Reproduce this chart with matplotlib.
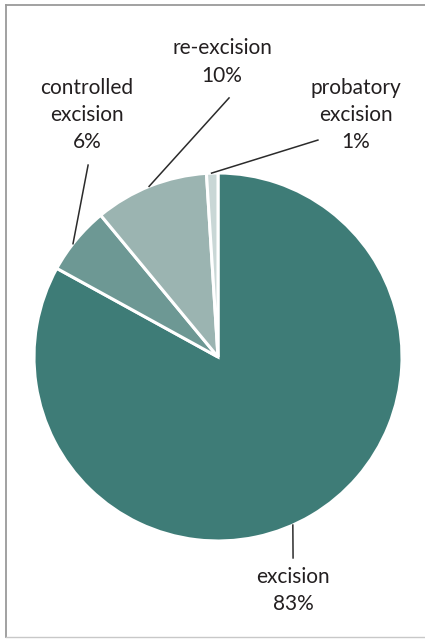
import numpy as np
import matplotlib
matplotlib.use("Agg")
import matplotlib.pyplot as plt
from matplotlib.lines import Line2D

# --- data ---
labels = ["excision", "controlled\nexcision", "re-excision", "probatory\nexcision"]
shares = [83, 6, 10, 1]
colors = ["#3e7c77", "#6d9894", "#9bb4b1", "#c9d7d6"]

# label placement (pie units, centre 0,0 radius 1)
text_pos = [(0.408, -1.27), (-0.712, 1.315), (0.022, 1.603), (0.75, 1.315)]
line_end = [(0.408, -1.092), (-0.706, 1.043), (0.060, 1.408), (0.543, 1.179)]
hit_angle = [-66, 142, 112, 92]

plt.rcParams["font.family"] = ["Lato", "DejaVu Sans"]

fig = plt.figure(figsize=(4.25, 6.39), dpi=100)
ax = fig.add_axes([0, 0, 1, 1])

ax.pie(shares, colors=colors, startangle=90, counterclock=False, radius=1,
       wedgeprops=dict(edgecolor="white", linewidth=2.2))
ax.set_xlim(-218 / 184, (425 - 218) / 184)
ax.set_ylim((357 - 639) / 184, 357 / 184)
ax.set_aspect("equal")
ax.axis("off")

for lab, val, tp, le, ang in zip(labels, shares, text_pos, line_end, hit_angle):
    a = np.deg2rad(ang)
    ax.plot([np.cos(a), le[0]], [np.sin(a), le[1]], color="#2b2b2b", lw=1.1)
    ax.text(tp[0], tp[1], f"{lab}\n{val}%", ha="center", va="center",
            fontsize=15, color="#231f20", linespacing=1.45)

# frame
fc = "#9a9a9a"
fig.add_artist(Line2D([6 / 425, 1], [1 - 5 / 639, 1 - 5 / 639], color=fc, lw=1.3))
fig.add_artist(Line2D([6 / 425, 6 / 425], [1 - 5 / 639, 2 / 639], color=fc, lw=1.3))
fig.add_artist(Line2D([6 / 425, 1], [2 / 639, 2 / 639], color="#c8c8c8", lw=1.0))

fig.savefig("out.png", dpi=100)
